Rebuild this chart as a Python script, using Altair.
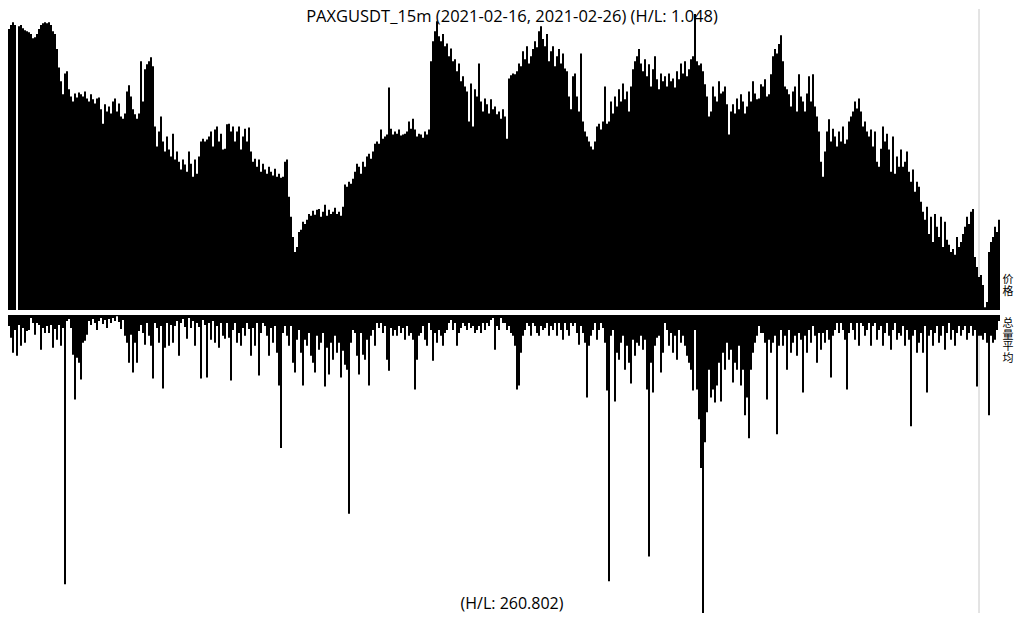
import pandas as pd
import altair as alt


# ── Texts ──────────────────────────────────────────────────────────────────────

TITLE = 'PAXGUSDT_15m (2021-02-16, 2021-02-26) (H/L: 1.048)'
VOLUME_NOTE = '(H/L: 260.802)'
PRICE_LABEL = '价\n格'
VOLUME_LABEL = '总\n量\n平\n均'

# ── Data (one value per bar) ───────────────────────────────────────────────────

PRICE = [
    1810.4, 1811.5, 1812.3, 1811.5, 1732.0, 1811.2, 1811.5, 1810.6, 1810.1, 1809.8,
    1809.5, 1809.0, 1807.8, 1808.1, 1809.0, 1810.4, 1811.5, 1812.0, 1812.3, 1812.0,
    1812.3, 1811.5, 1809.8, 1809.0, 1804.8, 1799.7, 1795.8, 1792.2, 1798.0, 1798.6,
    1793.6, 1791.6, 1790.2, 1792.4, 1791.3, 1792.7, 1792.2, 1791.6, 1793.0, 1791.0,
    1790.2, 1792.2, 1790.8, 1789.6, 1791.0, 1791.3, 1788.0, 1784.0, 1789.4, 1787.4,
    1788.8, 1786.8, 1790.2, 1791.0, 1787.4, 1789.6, 1786.0, 1785.4, 1786.8, 1793.0,
    1794.7, 1791.6, 1788.0, 1786.6, 1785.4, 1786.8, 1801.4, 1790.2, 1799.2, 1800.6,
    1801.4, 1802.5, 1800.0, 1783.2, 1777.6, 1781.8, 1786.0, 1779.0, 1776.2, 1780.4,
    1776.8, 1774.8, 1781.2, 1774.0, 1776.2, 1773.4, 1771.2, 1774.0, 1772.6, 1770.6,
    1776.2, 1772.8, 1769.2, 1774.0, 1770.0, 1774.8, 1779.0, 1779.8, 1779.0, 1779.6,
    1780.4, 1781.8, 1777.6, 1782.4, 1783.2, 1779.0, 1781.2, 1776.8, 1777.0,
    1783.8, 1784.0, 1781.8, 1783.2, 1779.0, 1781.8, 1783.2, 1776.8, 1780.4, 1782.6,
    1779.0, 1782.9, 1776.2, 1773.4, 1774.2, 1772.0, 1774.0, 1770.6, 1772.8, 1771.2,
    1770.0, 1772.0, 1770.6, 1769.5, 1771.4, 1769.2, 1770.0, 1768.9, 1769.2, 1773.4,
    1774.0, 1763.6, 1758.0, 1752.4, 1748.2, 1749.6, 1753.8, 1754.4, 1756.6, 1756.0,
    1757.2, 1758.8, 1758.3, 1759.7, 1758.6, 1760.0, 1760.2, 1758.0, 1759.4, 1761.4,
    1758.3, 1760.0, 1758.8, 1759.4, 1760.5, 1758.8, 1759.4, 1758.3, 1760.8, 1767.0,
    1766.4, 1767.8, 1767.2, 1768.6, 1770.6, 1772.8, 1772.0, 1770.0, 1773.4, 1772.0,
    1774.8, 1775.6, 1774.2, 1776.2, 1778.4, 1779.0, 1778.4, 1782.4, 1779.8, 1780.4,
    1781.0, 1794.1, 1782.6, 1781.0, 1781.8, 1781.2, 1782.4, 1780.7, 1781.0, 1781.2,
    1781.8, 1784.6, 1782.6, 1785.4, 1782.4, 1780.4, 1781.2, 1781.0, 1780.1,
    1781.8, 1781.0, 1782.4, 1801.4, 1807.0, 1809.8, 1812.6, 1808.4, 1807.0, 1809.0,
    1805.6, 1806.4, 1802.8, 1805.0, 1801.4, 1802.0, 1798.6, 1800.8, 1795.8, 1797.2,
    1794.4, 1793.0, 1784.6, 1795.2, 1783.2, 1793.6, 1791.6, 1800.8, 1790.2, 1787.4,
    1791.0, 1789.4, 1786.8, 1790.8, 1788.0, 1788.8, 1786.6, 1787.4, 1785.4, 1788.0,
    1786.0, 1779.8, 1796.6, 1797.5, 1798.0, 1797.8, 1798.6, 1800.8, 1800.0, 1804.2,
    1802.0, 1805.6, 1800.8, 1802.8, 1804.8, 1807.0, 1805.3, 1809.8, 1811.2, 1807.6,
    1805.6, 1809.0, 1801.4, 1804.2, 1805.6, 1800.0, 1802.8, 1804.8, 1800.8, 1803.6,
    1799.4, 1798.6, 1791.6, 1788.0, 1797.2, 1798.0, 1791.6, 1787.4, 1803.6, 1784.6,
    1781.8, 1780.4, 1779.0, 1777.6, 1776.8, 1779.0, 1783.2, 1784.0, 1782.4, 1784.6,
    1794.4, 1784.0, 1784.6, 1790.2, 1786.8, 1791.6, 1788.8, 1793.6, 1790.2,
    1795.2, 1790.8, 1793.0, 1787.4, 1794.4, 1799.2, 1801.4, 1802.8, 1804.8, 1800.8,
    1798.6, 1802.0, 1797.2, 1800.6, 1794.4, 1799.2, 1802.8, 1796.4, 1793.6, 1798.0,
    1795.8, 1797.2, 1794.4, 1798.0, 1795.8, 1796.6, 1794.1, 1798.6, 1796.4, 1800.8,
    1798.0, 1801.4, 1797.2, 1799.2, 1802.0, 1802.8, 1814.6, 1801.4, 1800.3, 1800.8,
    1798.6, 1795.0, 1791.6, 1786.0, 1787.4, 1794.4, 1791.6, 1790.2, 1795.8, 1792.4,
    1793.0, 1794.4, 1789.4, 1781.0, 1787.4, 1789.4, 1786.8, 1791.0, 1788.0, 1792.2,
    1790.2, 1786.8, 1788.8, 1793.0, 1790.2, 1795.8, 1792.4, 1790.8, 1791.0, 1795.0,
    1794.4, 1796.4, 1791.6, 1792.2, 1797.8, 1802.8, 1804.8, 1803.6, 1806.2, 1808.7,
    1801.4, 1794.4, 1793.6, 1792.2, 1788.8, 1793.0, 1794.4, 1787.4, 1797.8, 1791.6,
    1790.2, 1787.4, 1792.4, 1797.2, 1790.2, 1797.8, 1788.8, 1786.0, 1781.8,
    1773.4, 1769.2, 1776.2, 1781.8, 1785.2, 1779.0, 1782.6, 1780.4, 1777.6, 1781.8,
    1779.0, 1783.2, 1778.4, 1779.6, 1784.6, 1786.0, 1787.4, 1790.2, 1788.2, 1791.0,
    1787.4, 1783.2, 1784.6, 1781.8, 1780.4, 1782.4, 1777.6, 1781.8, 1773.4, 1772.0,
    1777.0, 1783.2, 1779.0, 1781.2, 1776.8, 1770.6, 1780.4, 1770.0, 1774.8, 1772.0,
    1776.8, 1772.0, 1773.4, 1776.2, 1770.6, 1767.8, 1771.2, 1765.0, 1767.8, 1766.4,
    1762.2, 1759.4, 1757.2, 1760.8, 1753.2, 1758.0, 1751.0, 1758.8, 1755.2, 1752.4,
    1758.0, 1749.6, 1756.6, 1751.6, 1750.2, 1748.2, 1749.0, 1747.4, 1752.4, 1749.6,
    1751.0, 1753.2, 1755.2, 1758.0, 1756.0, 1759.4, 1760.2, 1746.8, 1744.0, 1741.2,
    1741.8, 1739.0, 1732.8, 1734.2, 1748.2, 1751.0, 1752.4, 1755.2, 1753.8, 1757.2,
]

VOLUME = [
    11, 23, 38, 15, 41, 10, 31, 13, 28, 16,
    15, 3, 8, 20, 8, 10, 35, 13, 18, 11,
    18, 10, 33, 14, 25, 10, 31, 13, 271, 6,
    4, 13, 40, 85, 43, 48, 65, 28, 26, 20,
    6, 10, 4, 8, 15, 6, 3, 9, 5, 13,
    4, 8, 3, 6, 1.15, 7, 14, 5, 21, 28,
    48, 20, 58, 28, 48, 16, 10, 18, 30, 8,
    21, 31, 64, 8, 13, 28, 11, 74, 33, 8,
    31, 10, 28, 11, 6, 41, 8, 4, 12, 24,
    3, 13, 6, 31, 8, 12, 64, 5, 10, 63,
    8, 25, 6, 28, 11, 33, 8, 21, 24,
    8, 23, 66, 15, 8, 28, 18, 31, 13, 21,
    8, 14, 41, 13, 31, 8, 61, 18, 8, 11,
    21, 41, 13, 28, 11, 38, 71, 134, 18, 11,
    21, 31, 11, 48, 58, 25, 15, 38, 71, 25,
    31, 18, 41, 48, 58, 21, 35, 28, 18, 72,
    33, 60, 28, 45, 21, 38, 28, 63, 36, 50,
    55, 200, 28, 15, 18, 41, 60, 18, 40, 45,
    25, 71, 21, 15, 31, 8, 13, 8, 18, 11,
    45, 56, 13, 21, 15, 21, 11, 18, 13, 25,
    11, 21, 18, 25, 75, 45, 21, 18, 11,
    25, 31, 8, 15, 46, 18, 28, 15, 21, 31,
    18, 15, 8, 5, 15, 8, 31, 18, 13, 8,
    11, 15, 8, 13, 11, 18, 15, 11, 18, 8,
    15, 8, 11, 5, 3, 35, 11, 15, 3, 8,
    8, 15, 11, 18, 21, 31, 75, 71, 38, 21,
    15, 8, 11, 21, 8, 11, 18, 21, 11, 15,
    13, 8, 21, 11, 15, 8, 21, 8, 15, 25,
    8, 15, 21, 8, 11, 8, 18, 30, 11, 18,
    28, 83, 31, 21, 15, 8, 25, 15, 8, 13,
    28, 76, 268, 21, 15, 87, 38, 45, 28,
    21, 55, 31, 48, 69, 25, 41, 28, 31, 21,
    35, 25, 75, 243, 48, 78, 31, 23, 21, 58,
    38, 8, 15, 31, 18, 38, 21, 45, 15, 28,
    21, 31, 41, 48, 55, 76, 15, 75, 105, 154,
    300, 128, 98, 55, 83, 75, 88, 71, 48, 87,
    38, 55, 28, 45, 35, 68, 48, 55, 31, 71,
    55, 101, 83, 124, 55, 38, 28, 21, 11, 18,
    18, 28, 85, 25, 38, 28, 21, 120, 31, 15,
    31, 21, 55, 15, 38, 28, 21, 41, 18, 25,
    78, 21, 38, 15, 28, 11, 21, 48, 18,
    35, 18, 28, 15, 25, 63, 21, 15, 8, 18,
    8, 15, 25, 75, 18, 8, 15, 25, 8, 31,
    8, 11, 21, 15, 8, 31, 11, 8, 25, 15,
    11, 31, 18, 8, 21, 35, 15, 8, 25, 18,
    21, 11, 31, 15, 25, 112, 21, 15, 38, 28,
    18, 38, 11, 78, 21, 15, 31, 18, 11, 28,
    21, 11, 35, 18, 8, 25, 15, 31, 18, 11,
    21, 15, 11, 25, 18, 11, 21, 15, 72, 21,
    21, 25, 18, 28, 101, 21, 28, 25, 15, 6,
]

MARKER_BAR = 485          # the grey cursor line

# ── Layout ─────────────────────────────────────────────────────────────────────

N = len(PRICE)
WIDTH = 2 * N             # two pixels per bar keeps the bars seamless
PRICE_H = 296
VOLUME_H = 298
P_LOW, P_HIGH = min(PRICE), max(PRICE)

bars = pd.DataFrame({'bar': list(range(N)), 'price': PRICE, 'volume': VOLUME})

x = alt.X('bar:O', axis=None,
          scale=alt.Scale(domain=list(range(N)), paddingInner=0, paddingOuter=0))


def label(text, **kw):
    return alt.Chart(pd.DataFrame({'t': [text]})).mark_text(color='black', **kw)


def side_label(text, top):
    """Vertical CJK label, one character per line, right of the plot."""
    return label(text, font='Noto Sans CJK SC', fontSize=11, lineHeight=11.5,
                 lineBreak='\n', align='center', baseline='top'
                 ).encode(text='t:N', x=alt.value(WIDTH + 8), y=alt.value(top))


# ── Price panel ────────────────────────────────────────────────────────────────

price_rule = (
    alt.Chart(bars)
    .transform_filter(alt.datum.bar == MARKER_BAR)
    .mark_rule(color='#c8c8c8', strokeWidth=1)
    .encode(x=x, y=alt.value(-5), y2=alt.value(PRICE_H))
)

price_bars = alt.Chart(bars).mark_bar(color='black').encode(
    x=x,
    y=alt.Y('price:Q', axis=None,
            scale=alt.Scale(domain=[P_LOW, P_HIGH], zero=False, nice=False)),
    y2=alt.datum(P_LOW),
)

title = label(TITLE, font='Open Sans', fontSize=16.5, align='center',
              baseline='top').encode(text='t:N', x=alt.value(504), y=alt.value(-5))

price_panel = (price_rule + price_bars + title + side_label(PRICE_LABEL, 260)).properties(
    width=WIDTH, height=PRICE_H)

# ── Volume panel ───────────────────────────────────────────────────────────────

volume_rule = (
    alt.Chart(bars)
    .transform_filter(alt.datum.bar == MARKER_BAR)
    .mark_rule(color='#c8c8c8', strokeWidth=1)
    .encode(x=x, y=alt.value(0), y2=alt.value(VOLUME_H))
)

volume_bars = alt.Chart(bars).mark_bar(color='black').encode(
    x=x,
    y=alt.Y('volume:Q', axis=None,
            scale=alt.Scale(domain=[0, max(VOLUME)], reverse=True, nice=False)),
)

note = label(VOLUME_NOTE, font='Open Sans', fontSize=16, align='center',
             baseline='middle').encode(text='t:N', x=alt.value(504), y=alt.value(289))

volume_panel = (volume_rule + volume_bars + note + side_label(VOLUME_LABEL, 3)).properties(
    width=WIDTH, height=VOLUME_H)

chart = (
    alt.vconcat(price_panel, volume_panel, spacing=3)
    .properties(padding=0)
    .configure_view(stroke=None)
)

chart.save('out.html', embed_options={'renderer': 'svg', 'actions': False})
